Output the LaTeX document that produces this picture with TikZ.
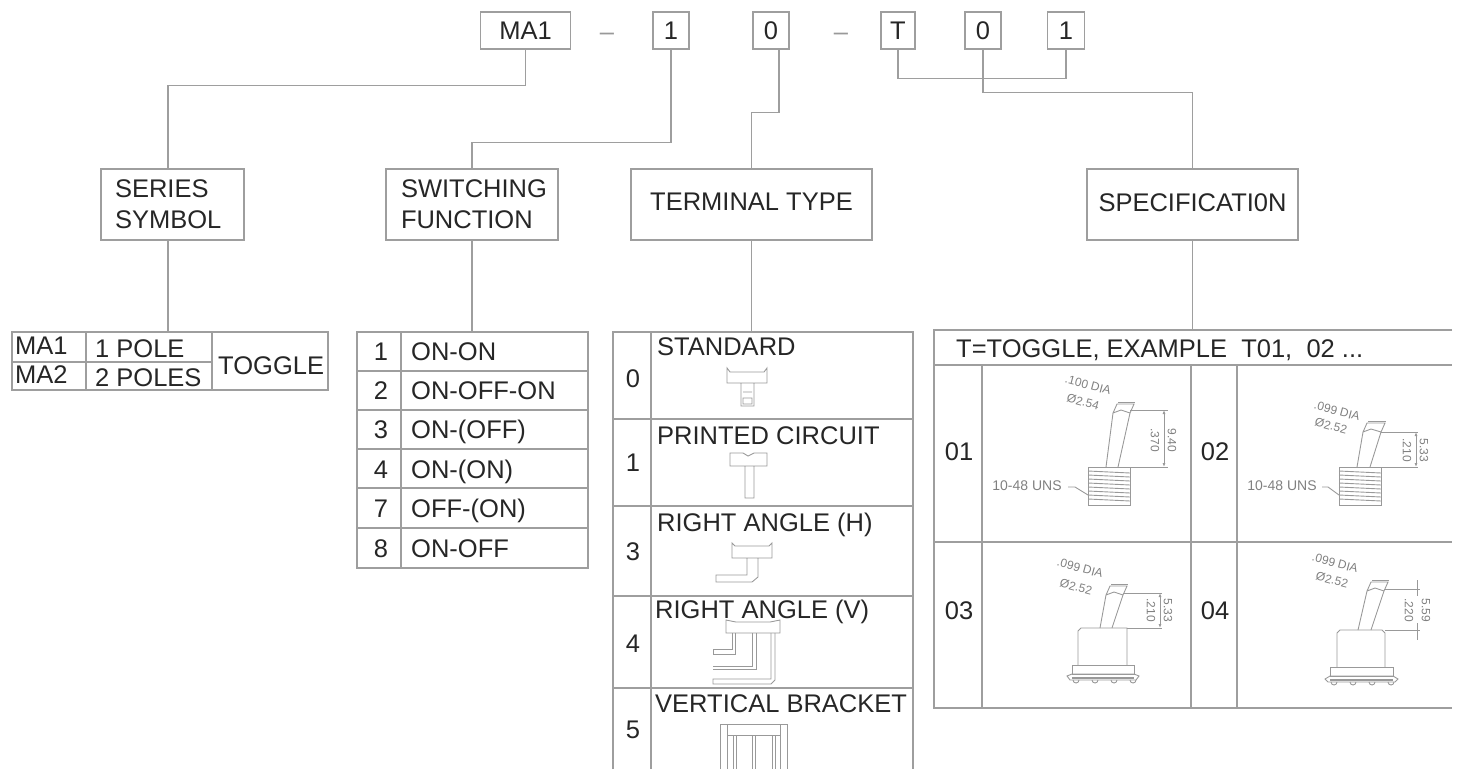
\documentclass[tikz,border=0pt]{standalone}
\usepackage{fontspec}
\setmainfont{Liberation Sans}
\usetikzlibrary{arrows.meta}
\definecolor{rule}{gray}{.62}
\definecolor{thin}{gray}{.6}
\tikzset{
  lbl/.style={inner sep=0pt,text height=18pt,text depth=0pt,text=black!85,font=\fontsize{25.5}{25.5}\selectfont},
  sym/.style={draw=rule,line width=1.3pt,minimum height=37pt,inner sep=0pt,text=black!85,font=\fontsize{25.5}{25.5}\selectfont},
  head/.style={draw=rule,line width=1.3pt,minimum height=71pt,inner sep=0pt,align=left,text=black!85,font=\fontsize{25.5}{31}\selectfont},
  link/.style={draw=rule,line width=1.3pt},
  cell/.style={draw=rule,line width=1.3pt},
  icon/.style={draw=thin,line width=.9pt},
  dim/.style={inner sep=0pt,text=black!50,font=\fontsize{12}{12}\selectfont},
  tip/.style={icon,{Latex[length=4pt,width=3pt]}-{Latex[length=4pt,width=3pt]}}
}
\newcommand{\lever}[6]{% base left, base right, top left, top right, base y, top y
  \draw[icon] (#1,#5) -- (#3,#6) (#2,#5) -- (#4,#6);
  \draw[icon] (#3,#6) -- (#3+4,#6-9) -- (#4+4,#6-9) -- (#4,#6) (#3,#6) -- (#3+8,#6-3) -- (#4,#6);
  \draw[icon] (#3+5,#6-11) -- (#4+5,#6-11);
}
\begin{document}
\begin{tikzpicture}[x=1pt,y=-1pt]
  \useasboundingbox (0,0) rectangle (1458,769);
  % part number
  \node[sym,minimum width=90pt] (MA1) at (525.5,30.5) {MA1};
  \node[sym,minimum width=36pt] (P1) at (671,30.5) {1};
  \node[sym,minimum width=36pt] (P2) at (771,30.5) {0};
  \node[sym,minimum width=34pt] (P3) at (898,30.5) {T};
  \node[sym,minimum width=36pt] (P4) at (983,30.5) {0};
  \node[sym,minimum width=37pt] (P5) at (1066,30.5) {1};
  \node[lbl,text=black!40] (D1) at (607,31) {--};
  \node[lbl,text=black!40] (D2) at (841,31) {--};
  % headings
  \node[head,text width=115pt,inner xsep=14pt] (SS) at (172.5,204.5) {SERIES\\SYMBOL};
  \node[head,text width=142pt,inner xsep=15pt] (SW) at (472,204.5) {SWITCHING\\FUNCTION};
  \node[head,minimum width=241pt,text depth=6pt] (TT) at (751.5,204.5) {TERMINAL TYPE};
  \node[head,minimum width=211pt,text depth=3pt] (SP) at (1192.5,204.5) {SPECIFICATI0N};
  \coordinate (TA) at (168,332);
  \coordinate (TB) at (472,332);
  \coordinate (TC) at (751.5,332);
  \coordinate (TD) at (1192.5,330);
  % connectors
  \draw[link] (MA1.south) -- ++(0,36) -| ([xshift=-4.5pt]SS.north);
  \draw[link] (P1.south) -- ++(0,93) -| (SW.north);
  \draw[link] ([xshift=8pt]P2.south) -- ++(0,63) -| (TT.north);
  \draw[link] (P3.south) -- ++(0,29) -| (P5.south);
  \draw[link] (P4.south) -- ++(0,43) -| (SP.north);
  \draw[link] ([xshift=-4.5pt]SS.south) -- (TA);
  \draw[link] (SW.south) -- (TB);
  \draw[link] (TT.south) -- (TC);
  \draw[link] (SP.south) -- (TD);
  % series table
  \draw[cell] (12,332) rectangle (328,390) (86,332) -- (86,390) (212,332) -- (212,390) (12,362) -- (212,362);
  \node[lbl,anchor=west] (A1) at (15,345) {MA1};
  \node[lbl,anchor=west] (A2) at (15,374) {MA2};
  \node[lbl,anchor=west] (A3) at (95,348) {1 POLE};
  \node[lbl,anchor=west] (A4) at (95,377) {2 POLES};
  \node[lbl,anchor=west] (A5) at (218,365) {TOGGLE};
  % switching table
  \draw[cell] (357,332) rectangle (588,568) (401,332) -- (401,568);
  \foreach \y in {371,410,449,488,528} \draw[cell] (357,\y) -- (588,\y);
  \foreach \n/\k/\t/\y in {B1/1/ON-ON/351,B2/2/ON-OFF-ON/390,B3/3/ON-(OFF)/429,B4/4/ON-(ON)/469,B5/7/OFF-(ON)/508,B6/8/ON-OFF/548} {
    \node[lbl] (\n) at (381,\y) {\k};
    \node[lbl,anchor=west] (\n t) at (411,\y) {\t};
  }
  % terminal table
  \draw[cell] (613,769) -- (613,332) -- (913,332) -- (913,769) (651,332) -- (651,769);
  \foreach \y in {419,506,596,688} \draw[cell] (613,\y) -- (913,\y);
  \foreach \n/\k/\t/\x/\y/\z in {C1/0/STANDARD/657/346/378,C2/1/PRINTED CIRCUIT/657/435/462,C3/3/RIGHT ANGLE (H)/657/522/551,C4/4/RIGHT ANGLE (V)/655/609/643,C5/5/VERTICAL BRACKET/655/703/729} {
    \node[lbl] (\n) at (633,\z) {\k};
    \node[lbl,anchor=west] (\n t) at (\x,\y) {\t};
  }
  % terminal icons
  \draw[icon] (727,368) -- (730,372) -- (764,372) -- (767,368) -- (767,383) -- (727,383) -- cycle (741,383) rectangle (754,406) (743,392) -- (752,392) (743,398) rectangle (752,404);
  \draw[icon] (730,453) -- (743,453) -- (748,456) -- (754,453) -- (767,453) -- (767,466) -- (730,466) -- cycle (745,466) -- (745,498) -- (754,498) -- (754,466);
  \draw[icon] (732,543) -- (735,546) -- (752,546) -- (769,546) -- (772,543) -- (772,558) -- (732,558) -- cycle (747,558) -- (747,575) -- (716,575) -- (716,582) -- (752,582) -- (758,577) -- (758,558);
  \draw[icon] (726,620) -- (726,633) -- (780,633) -- (780,620) -- (770,622) -- (736,622) -- cycle;
  \draw[icon] (732,633) -- (732,649) -- (713,649) -- (713,654) -- (735,654) -- (735,633);
  \draw[icon] (752,633) -- (752,666) -- (713,666) (756,633) -- (756,669) -- (713,669);
  \draw[icon] (771,633) -- (771,679) -- (713,679) -- (713,684) -- (771,684) -- (775,680) -- (775,633);
  \draw[icon] (720,769) -- (720,724) -- (787,724) -- (787,769) (727,769) -- (727,724) (780,769) -- (780,724) (727,735) -- (780,735);
  \foreach \x in {734,753,773} \draw[icon] (\x-1,735) -- (\x-1,769) (\x+2,735) -- (\x+2,769);
  % specification table
  \draw[cell] (1452,330) -- (934,330) -- (934,708) -- (1452,708) (934,365) -- (1452,365) (934,542) -- (1452,542);
  \foreach \x in {982,1191,1237} \draw[cell] (\x,365) -- (\x,708);
  \node[lbl,anchor=west] (D0) at (956,348) {T=TOGGLE, EXAMPLE\ \ T01,\ \ 02 ...};
  \node[lbl] (S1) at (959,451) {01};
  \node[lbl] (S2) at (1215,451) {02};
  \node[lbl] (S3) at (959,610) {03};
  \node[lbl] (S4) at (1215,610) {04};
  % toggle 01
  \lever{1106}{1118}{1113}{1130}{467}{413}
  \draw[icon] (1088,467) rectangle (1130,505);
  \foreach \y in {471,475,...,499} \draw[icon] (1088,\y) -- (1130,\y+2);
  \draw[icon] (1130,410) -- (1168,410) (1130,467) -- (1168,467);
  \draw[tip] (1164,410) -- (1164,467);
  \draw[icon] (1068,487) -- (1075,487) -- (1088,495);
  \node[dim,rotate=-90] (L1) at (1155,440) {.370};
  \node[dim,rotate=-90] (L2) at (1172,440) {9.40};
  \node[dim,rotate=-15] (L3) at (1088,385) {.100 DIA};
  \node[dim,rotate=-15] (L4) at (1083,402) {Ø2.54};
  \node[dim,font=\fontsize{14}{14}\selectfont] (L5) at (1027,486) {10-48 UNS};
  % toggle 02
  \lever{1357}{1370}{1363}{1381}{467}{432}
  \draw[icon] (1339,467) rectangle (1381,505);
  \foreach \y in {471,475,...,499} \draw[icon] (1339,\y) -- (1381,\y+2);
  \draw[icon] (1381,432) -- (1418,432) (1381,467) -- (1418,467);
  \draw[tip] (1416,432) -- (1416,467);
  \draw[icon] (1322,487) -- (1328,487) -- (1339,495);
  \node[dim,rotate=-90] (M1) at (1407,450) {.210};
  \node[dim,rotate=-90] (M2) at (1424,450) {5.33};
  \node[dim,rotate=-15] (M3) at (1337,411) {.099 DIA};
  \node[dim,rotate=-15] (M4) at (1331,426) {Ø2.52};
  \node[dim,font=\fontsize{14}{14}\selectfont] (M5) at (1282,486) {10-48 UNS};
  % toggle 03
  \lever{1100}{1112}{1106}{1123}{628}{595}
  \draw[icon] (1078,665) -- (1078,631) -- (1081,628) -- (1127,628) -- (1127,665);
  \draw[icon] (1072,674) rectangle (1134,665);
  \draw[icon] (1067,676) -- (1072,674) -- (1134,674) -- (1139,676) -- (1136,680) -- (1070,680) -- cycle;
  \draw[icon,line width=2pt] (1072,678) -- (1134,678);
  \foreach \x in {1073,1092,1111,1130} \draw[icon] (\x,680) arc[start angle=180,end angle=360,radius=3pt];
  \draw[icon] (1123,593) -- (1162,593) (1127,628) -- (1162,628);
  \draw[tip] (1160,593) -- (1160,628);
  \node[dim,rotate=-90] (N1) at (1151,610) {.210};
  \node[dim,rotate=-90] (N2) at (1168,610) {5.33};
  \node[dim,rotate=-15] (N3) at (1080,568) {.099 DIA};
  \node[dim,rotate=-15] (N4) at (1076,587) {Ø2.52};
  % toggle 04
  \lever{1358}{1371}{1367}{1384}{630}{591}
  \draw[icon] (1337,667) -- (1337,633) -- (1340,630) -- (1382,630) -- (1385,633) -- (1385,667);
  \draw[icon] (1330,676) rectangle (1393,667);
  \draw[icon] (1325,679) -- (1330,676) -- (1393,676) -- (1398,679) -- (1395,682) -- (1328,682) -- cycle;
  \draw[icon,line width=2pt] (1330,680) -- (1393,680);
  \foreach \x in {1331,1350,1369,1388} \draw[icon] (\x,682) arc[start angle=180,end angle=360,radius=3pt];
  \draw[icon] (1384,589) -- (1420,589) (1385,630) -- (1420,630);
  \draw[icon] (1417,580) -- (1417,596) (1417,623) -- (1417,640);
  \node[dim,rotate=-90] (O1) at (1409,610) {.220};
  \node[dim,rotate=-90] (O2) at (1426,610) {5.59};
  \node[dim,rotate=-15] (O3) at (1335,563) {.099 DIA};
  \node[dim,rotate=-15] (O4) at (1332,580) {Ø2.52};
\end{tikzpicture}
\end{document}
